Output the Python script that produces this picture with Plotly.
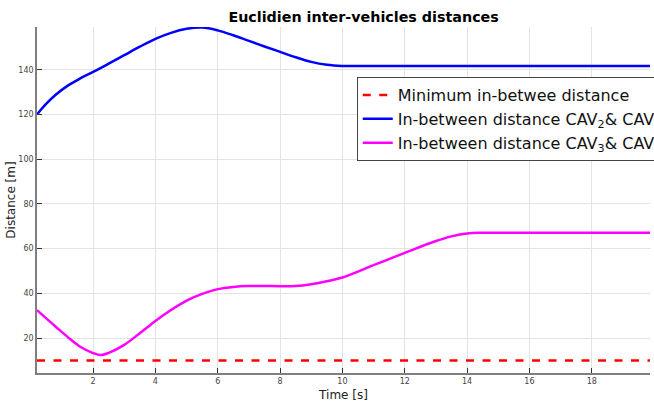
import plotly.graph_objects as go

# Time samples [s]
t_blue = [0.2, 0.5, 0.8, 1.2, 1.6, 2, 2.5, 3, 3.5, 4, 4.5, 5, 5.5, 6, 6.5, 7, 7.5, 8, 8.5, 9, 9.5, 10, 10.5, 12, 14, 16, 18, 19.9]
d_blue = [120.0, 124.8, 128.8, 133.0, 136.2, 139.0, 142.7, 146.5, 150.3, 153.8, 156.5, 158.3, 158.9, 157.6, 155.4, 152.9, 150.4, 148.0, 145.6, 143.5, 142.2, 141.7, 141.7, 141.7, 141.7, 141.7, 141.7, 141.7]

t_mag = [0.2, 0.8, 1.2, 1.6, 2.0, 2.25, 2.5, 3.0, 3.5, 4, 4.5, 5, 5.5, 6, 6.5, 7, 7.5, 8, 8.5, 9, 9.5, 10, 11, 12, 13, 13.5, 14, 14.5, 15, 16, 18, 19.9]
d_mag = [32.5, 25.1, 20.3, 16.0, 13.3, 12.4, 13.4, 17.0, 22.2, 27.7, 32.6, 36.8, 39.8, 41.9, 42.9, 43.3, 43.3, 43.2, 43.3, 44.1, 45.4, 47.1, 52.6, 58.1, 63.4, 65.5, 66.8, 67.1, 67.1, 67.1, 67.1, 67.1]

t_min = [0.2, 19.9]
d_min = [10, 10]

x_ticks = [2, 4, 6, 8, 10, 12, 14, 16, 18]
y_ticks = [20, 40, 60, 80, 100, 120, 140]

names = ["Minimum in-betwee distance",
         "In-between distance CAV<sub>2</sub>& CAV<sub>3</sub>",
         "In-between distance CAV<sub>3</sub>& CAV<sub>4</sub>"]

fig = go.Figure()
fig.add_trace(go.Scatter(x=t_min, y=d_min, mode="lines", name=names[0],
                         line=dict(color="#ff0000", width=2.5, dash="8px,8.5px")))
fig.add_trace(go.Scatter(x=t_blue, y=d_blue, mode="lines", name=names[1],
                         line=dict(color="#0000ff", width=2.5, shape="spline", smoothing=1)))
fig.add_trace(go.Scatter(x=t_mag, y=d_mag, mode="lines", name=names[2],
                         line=dict(color="#ff00ff", width=2.5, shape="spline", smoothing=1)))

axis_common = dict(showgrid=True, gridcolor="#e3e3e3", gridwidth=1,
                   showline=True, linecolor="#7f7f7f", linewidth=1.5,
                   ticks="inside", ticklen=5, tickcolor="#333333", tickwidth=1,
                   tickfont=dict(family="DejaVu Sans", size=8, color="#444444"),
                   zeroline=False, mirror=False, automargin=False)

fig.update_layout(
    width=654, height=405,
    margin=dict(l=37, r=4, t=27, b=32, autoexpand=False),
    paper_bgcolor="white", plot_bgcolor="white",
    title=dict(text="<b>Euclidien inter-vehicles distances</b>", x=0.556, xanchor="center",
               y=0.957, yanchor="middle",
               font=dict(family="DejaVu Sans", size=14.3, color="#000000")),
    xaxis=dict(range=[0.2, 19.87], tickvals=x_ticks,
               title=dict(text="Time [s]", standoff=5,
                          font=dict(family="DejaVu Sans", size=12, color="#222222")),
               **axis_common),
    yaxis=dict(range=[4.4, 159.1], tickvals=y_ticks,
               title=dict(text="Distance [m]", standoff=0,
                          font=dict(family="DejaVu Sans", size=12, color="#222222")),
               **axis_common),
    legend=dict(x=0.5216, y=0.855, xanchor="left", yanchor="top",
                bgcolor="white", bordercolor="#444444", borderwidth=1,
                font=dict(family="DejaVu Sans", size=16, color="#111111"),
                itemwidth=30, tracegroupgap=0),
    showlegend=True,
)

fig.write_html("out.html", config={"displayModeBar": False},
               post_script="document.body.style.margin='0px';")
